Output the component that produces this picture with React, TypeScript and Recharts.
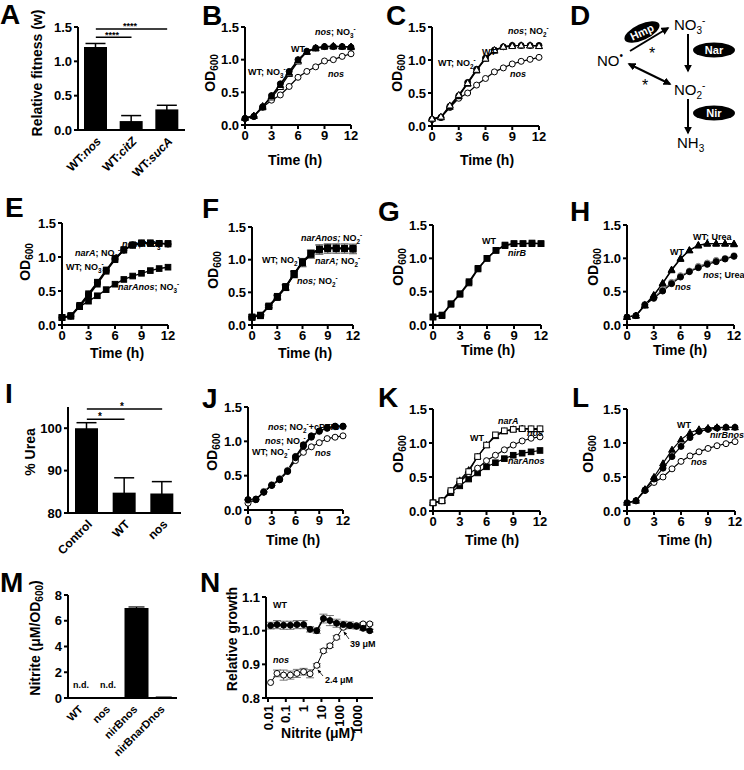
import React from 'react';
import { LineChart, Line, XAxis, YAxis, BarChart, Bar, ErrorBar, ReferenceLine } from 'recharts';

const FONT = "'Liberation Sans', Arial, Helvetica, sans-serif";

// ---------- shared axes ----------
const HOURS = [0, 1, 2, 3, 4, 5, 6, 7, 8, 9, 10, 11, 12];
const TIME_TICKS = [0, 3, 6, 9, 12];
const OD_TICKS = [0, 0.5, 1.0, 1.5];

// ---------- A ----------
const A_STRAINS = ['WT:nos', 'WT:citZ', 'WT:sucA'];
const A_FITNESS = [1.21, 0.13, 0.3];
const A_FITNESS_ERR = [0.05, 0.08, 0.06];
const A_TICKS = [0, 0.5, 1.0, 1.5];

// ---------- B ----------
const B_WT = [0.10, 0.13, 0.28, 0.45, 0.63, 0.82, 1.00, 1.13, 1.18, 1.20, 1.20, 1.20, 1.19];
const B_WT_NO3 = [0.11, 0.14, 0.27, 0.44, 0.61, 0.80, 0.99, 1.12, 1.18, 1.20, 1.21, 1.20, 1.20];
const B_NOS_NO3 = [0.11, 0.14, 0.29, 0.42, 0.58, 0.78, 0.97, 1.12, 1.17, 1.20, 1.20, 1.20, 1.19];
const B_NOS = [0.10, 0.13, 0.27, 0.38, 0.46, 0.59, 0.73, 0.82, 0.89, 0.98, 1.00, 1.05, 1.09];

// ---------- C ----------
const C_WT = [0.10, 0.13, 0.30, 0.46, 0.66, 0.86, 1.03, 1.15, 1.20, 1.22, 1.22, 1.22, 1.22];
const C_WT_NO2 = [0.11, 0.13, 0.29, 0.45, 0.64, 0.84, 1.02, 1.14, 1.20, 1.22, 1.22, 1.22, 1.21];
const C_NOS_NO2 = [0.11, 0.14, 0.31, 0.47, 0.65, 0.85, 1.02, 1.15, 1.20, 1.21, 1.22, 1.22, 1.21];
const C_NOS = [0.10, 0.13, 0.28, 0.42, 0.50, 0.62, 0.72, 0.82, 0.88, 0.94, 0.98, 1.01, 1.04];

// ---------- E ----------
const E_WT_NO3 = [0.11, 0.13, 0.28, 0.45, 0.62, 0.80, 0.97, 1.10, 1.18, 1.20, 1.20, 1.20, 1.19];
const E_NARA_NO3 = [0.11, 0.13, 0.27, 0.43, 0.60, 0.79, 0.96, 1.10, 1.17, 1.20, 1.20, 1.20, 1.20];
const E_NOS_NO3 = [0.11, 0.14, 0.29, 0.46, 0.63, 0.81, 0.98, 1.11, 1.18, 1.21, 1.21, 1.20, 1.19];
const E_NARANOS_NO3 = [0.11, 0.13, 0.27, 0.35, 0.43, 0.52, 0.60, 0.67, 0.72, 0.76, 0.80, 0.83, 0.85];

// ---------- F ----------
const F_WT_NO2 = [0.12, 0.15, 0.29, 0.43, 0.58, 0.78, 0.96, 1.09, 1.16, 1.17, 1.17, 1.17, 1.17];
const F_NARA_NO2 = [0.12, 0.15, 0.28, 0.42, 0.57, 0.77, 0.95, 1.08, 1.15, 1.17, 1.17, 1.17, 1.16];
const F_NOS_NO2 = [0.12, 0.14, 0.29, 0.44, 0.59, 0.79, 0.97, 1.10, 1.16, 1.18, 1.18, 1.17, 1.17];
const F_NARANOS_NO2 = [0.12, 0.15, 0.28, 0.43, 0.58, 0.78, 0.96, 1.09, 1.16, 1.18, 1.17, 1.17, 1.17];
const F_ERR = [0.01, 0.01, 0.02, 0.03, 0.04, 0.05, 0.06, 0.06, 0.07, 0.07, 0.07, 0.07, 0.07];

// ---------- G ----------
const G_WT = [0.12, 0.15, 0.32, 0.47, 0.65, 0.85, 1.00, 1.12, 1.20, 1.22, 1.22, 1.23, 1.22];
const G_NIRB = [0.12, 0.14, 0.31, 0.46, 0.63, 0.84, 1.00, 1.12, 1.19, 1.22, 1.22, 1.22, 1.22];

// ---------- H ----------
const H_WT = [0.12, 0.14, 0.30, 0.45, 0.63, 0.83, 1.00, 1.12, 1.20, 1.22, 1.22, 1.22, 1.22];
const H_WT_UREA = [0.12, 0.14, 0.29, 0.44, 0.62, 0.82, 0.99, 1.12, 1.19, 1.22, 1.22, 1.22, 1.21];
const H_NOS = [0.12, 0.14, 0.30, 0.40, 0.51, 0.62, 0.72, 0.80, 0.86, 0.91, 0.95, 0.99, 1.03];
const H_NOS_UREA = [0.12, 0.14, 0.31, 0.42, 0.53, 0.64, 0.74, 0.81, 0.88, 0.93, 0.97, 1.00, 1.04];

// ---------- I ----------
const I_GROUPS = ['Control', 'WT', 'nos'];
const I_UREA = [100, 84.8, 84.6];
const I_UREA_ERR = [1.3, 3.5, 2.8];
const I_TICKS = [80, 90, 100];

// ---------- J ----------
const J_NOS_NO2_CPTIO = [0.15, 0.15, 0.26, 0.36, 0.45, 0.57, 0.78, 0.95, 1.08, 1.15, 1.20, 1.22, 1.22];
const J_NOS_NO2 = [0.14, 0.15, 0.27, 0.37, 0.46, 0.58, 0.77, 0.94, 1.07, 1.14, 1.19, 1.21, 1.21];
const J_WT_NO2 = [0.15, 0.16, 0.26, 0.36, 0.44, 0.56, 0.76, 0.93, 1.06, 1.15, 1.19, 1.22, 1.22];
const J_NOS = [0.10, 0.15, 0.27, 0.36, 0.45, 0.57, 0.72, 0.84, 0.92, 0.98, 1.04, 1.06, 1.08];

// ---------- K ----------
const K_WT = [0.12, 0.15, 0.30, 0.45, 0.60, 0.80, 0.97, 1.10, 1.17, 1.20, 1.21, 1.20, 1.20];
const K_NARA = [0.12, 0.15, 0.30, 0.44, 0.58, 0.80, 0.97, 1.12, 1.18, 1.20, 1.21, 1.21, 1.21];
const K_NOS = [0.12, 0.15, 0.29, 0.42, 0.55, 0.63, 0.74, 0.82, 0.90, 0.97, 1.03, 1.07, 1.09];
const K_NARANOS = [0.12, 0.15, 0.27, 0.37, 0.47, 0.56, 0.65, 0.71, 0.77, 0.82, 0.85, 0.87, 0.89];

// ---------- L ----------
const L_WT = [0.12, 0.15, 0.32, 0.50, 0.70, 0.90, 1.05, 1.15, 1.20, 1.22, 1.23, 1.23, 1.23];
const L_NIRBNOS = [0.12, 0.15, 0.31, 0.47, 0.63, 0.80, 0.95, 1.08, 1.17, 1.20, 1.22, 1.23, 1.23];
const L_NOS = [0.12, 0.15, 0.30, 0.42, 0.50, 0.62, 0.73, 0.81, 0.87, 0.92, 0.96, 0.99, 1.02];

// ---------- M ----------
const M_STRAINS = ['WT', 'nos', 'nirBnos', 'nirBnarDnos'];
const M_NITRITE = [0, 0, 7.0, 0.05];
const M_NITRITE_ERR = [0, 0, 0.07, 0.02];
const M_TICKS = [0, 2, 4, 6, 8];

// ---------- N ----------
const N_NITRITE_UM = [0.014, 0.032, 0.075, 0.18, 0.42, 1.0, 2.3, 5.5, 13, 30, 71, 170, 400, 930, 2200, 5200];
const N_WT = [1.015, 1.018, 1.016, 1.016, 1.018, 1.018, 1.004, 1.0, 1.036, 1.03, 1.022, 1.018, 1.016, 1.013, 1.007, 1.0];
const N_WT_ERR = [0.01, 0.012, 0.012, 0.012, 0.012, 0.012, 0.008, 0.008, 0.013, 0.015, 0.012, 0.01, 0.01, 0.008, 0.006, 0.004];
const N_NOS = [0.846, 0.873, 0.868, 0.868, 0.873, 0.878, 0.872, 0.897, 0.94, 0.955, 0.98, 1.01, 1.015, 1.015, 1.02, 1.02];
const N_NOS_ERR = [0, 0.01, 0.015, 0.012, 0.012, 0.01, 0.012, 0.005, 0.005, 0.005, 0.005, 0.005, 0.005, 0.004, 0.004, 0.003];
const N_X_TICKS = [0.01, 0.1, 1, 10, 100, 1000];
const N_Y_TICKS = [0.8, 0.9, 1.0, 1.1];

// ---------- styles ----------
const AXIS = { stroke: '#000', strokeWidth: 2 };
const TICK = { fill: '#000', fontSize: 13, fontWeight: 700, fontFamily: FONT };

type Kind = 'fc' | 'oc' | 'ft' | 'ot' | 'fs' | 'os';
type Series = { key: string; values: number[]; kind: Kind; color?: string; err?: number[]; sw?: number };

function Marker({ cx, cy, kind, color }: any) {
  if (cx == null || cy == null || isNaN(cx) || isNaN(cy)) return <g />;
  const c = color || '#000';
  const fill = kind[0] === 'f' ? c : '#fff';
  const shape = kind[1];
  if (shape === 'c') return <circle cx={cx} cy={cy} r={3} fill={fill} stroke={c} strokeWidth={1} />;
  if (shape === 't')
    return <path d={`M${cx},${cy - 3.6}L${cx + 3.4},${cy + 2.4}L${cx - 3.4},${cy + 2.4}Z`} fill={fill} stroke={c} strokeWidth={1} />;
  return <rect x={cx - 2.8} y={cy - 2.8} width={5.6} height={5.6} fill={fill} stroke={c} strokeWidth={1} />;
}

function GrowthPanel({ px, py, pw, ph, series }: { px: number; py: number; pw: number; ph: number; series: Series[] }) {
  const rows = HOURS.map((t, i) => {
    const row: Record<string, number> = { t };
    series.forEach((s) => {
      row[s.key] = s.values[i];
      if (s.err) row[s.key + 'E'] = s.err[i];
    });
    return row;
  });
  const YW = 50, MT = 10, MR = 14, XH = 30;
  return (
    <div style={{ position: 'absolute', left: px - YW, top: py - MT }}>
      <LineChart width={pw + YW + MR} height={ph + MT + XH} data={rows} margin={{ top: MT, right: MR, bottom: 0, left: 0 }}>
        <XAxis dataKey="t" type="number" domain={[0, 12]} ticks={TIME_TICKS} interval={0} height={XH}
          axisLine={AXIS} tickLine={AXIS} tickSize={4} tick={TICK} />
        <YAxis type="number" domain={[0, 1.5]} ticks={OD_TICKS} interval={0} width={YW}
          axisLine={AXIS} tickLine={AXIS} tickSize={4} tick={TICK} tickFormatter={(v: number) => v.toFixed(1)} />
        {series.map((s) => (
          <Line key={s.key} dataKey={s.key} stroke={s.color || '#000'} strokeWidth={s.sw || 1.2} isAnimationActive={false}
            dot={(p: any) => <Marker key={`${s.key}-${p.index}`} cx={p.cx} cy={p.cy} kind={s.kind} color={s.color} />}>
            {s.err ? <ErrorBar dataKey={s.key + 'E'} width={4} stroke="#555" strokeWidth={0.8} direction="y" /> : null}
          </Line>
        ))}
      </LineChart>
    </div>
  );
}

function ATick({ x, y, payload }: any) {
  const [pre, post] = String(payload.value).split(':');
  const X = x + 6, Y = y + 4;
  return (
    <text x={X} y={Y} transform={`rotate(-45, ${X}, ${Y})`} textAnchor="end" fontFamily={FONT} fontWeight={700} fontSize={12} fill="#000">
      {pre}:<tspan fontStyle="italic">{post}</tspan>
    </text>
  );
}

function PlainRotTick({ x, y, payload, dx = 6, fs = 12 }: any) {
  const X = x + dx, Y = y + 4;
  return (
    <text x={X} y={Y} transform={`rotate(-45, ${X}, ${Y})`} textAnchor="end" fontFamily={FONT} fontWeight={700} fontSize={fs} fill="#000">
      {String(payload.value)}
    </text>
  );
}

function NTick({ x, y, payload }: any) {
  const X = x + 4.5, Y = y + 1;
  return (
    <text x={X} y={Y} transform={`rotate(-90, ${X}, ${Y})`} textAnchor="end" fontFamily={FONT} fontWeight={700} fontSize={13} fill="#000">
      {String(payload.value)}
    </text>
  );
}

function PanelA() {
  const rows = A_STRAINS.map((n, i) => ({ name: n, v: A_FITNESS[i], e: A_FITNESS_ERR[i] }));
  const px = 78, py = 27, pw = 107, ph = 103;
  return (
    <div style={{ position: 'absolute', left: px - 50, top: py - 10 }}>
      <BarChart width={pw + 56} height={ph + 70} data={rows} margin={{ top: 10, right: 6, left: 0, bottom: 0 }}>
        <XAxis dataKey="name" height={60} interval={0} axisLine={AXIS} tickLine={false} tick={<ATick />} />
        <YAxis type="number" domain={[0, 1.5]} ticks={A_TICKS} interval={0} width={50} axisLine={AXIS} tickLine={AXIS} tickSize={4}
          tick={TICK} tickFormatter={(v: number) => v.toFixed(1)} />
        <Bar dataKey="v" fill="#000" barSize={23} isAnimationActive={false}>
          <ErrorBar dataKey="e" width={10} stroke="#000" strokeWidth={1.5} direction="y" />
        </Bar>
        <ReferenceLine segment={[{ x: 'WT:nos', y: 1.35 }, { x: 'WT:citZ', y: 1.35 }]} stroke="#000" strokeWidth={1.5} ifOverflow="visible" />
        <ReferenceLine segment={[{ x: 'WT:nos', y: 1.47 }, { x: 'WT:sucA', y: 1.47 }]} stroke="#000" strokeWidth={1.5} ifOverflow="visible" />
      </BarChart>
    </div>
  );
}

function PanelI() {
  const rows = I_GROUPS.map((n, i) => ({ name: n, v: I_UREA[i], e: I_UREA_ERR[i] }));
  const px = 68, py = 407, pw = 113, ph = 106;
  return (
    <div style={{ position: 'absolute', left: px - 50, top: py - 10 }}>
      <BarChart width={pw + 56} height={ph + 70} data={rows} margin={{ top: 10, right: 6, left: 0, bottom: 0 }}>
        <XAxis dataKey="name" height={60} interval={0} axisLine={AXIS} tickLine={false} tick={<PlainRotTick dx={6} fs={12} />} />
        <YAxis type="number" domain={[80, 105]} ticks={I_TICKS} interval={0} width={50} axisLine={AXIS} tickLine={AXIS} tickSize={4} tick={TICK} />
        <Bar dataKey="v" fill="#000" barSize={23} isAnimationActive={false}>
          <ErrorBar dataKey="e" width={10} stroke="#000" strokeWidth={1.5} direction="y" />
        </Bar>
        <ReferenceLine segment={[{ x: 'Control', y: 102.1 }, { x: 'WT', y: 102.1 }]} stroke="#000" strokeWidth={1.5} ifOverflow="visible" />
        <ReferenceLine segment={[{ x: 'Control', y: 104.5 }, { x: 'nos', y: 104.5 }]} stroke="#000" strokeWidth={1.5} ifOverflow="visible" />
      </BarChart>
    </div>
  );
}

function PanelM() {
  const rows = M_STRAINS.map((n, i) => ({ name: n, v: M_NITRITE[i], e: M_NITRITE_ERR[i] }));
  const px = 68, py = 595, pw = 109, ph = 103;
  return (
    <div style={{ position: 'absolute', left: px - 50, top: py - 10 }}>
      <BarChart width={pw + 56} height={ph + 75} data={rows} margin={{ top: 10, right: 6, left: 0, bottom: 0 }}>
        <XAxis dataKey="name" height={65} interval={0} axisLine={AXIS} tickLine={false} tick={<PlainRotTick dx={2} fs={11} />} />
        <YAxis type="number" domain={[0, 8]} ticks={M_TICKS} interval={0} width={50} axisLine={AXIS} tickLine={AXIS} tickSize={4} tick={TICK} />
        <Bar dataKey="v" fill="#000" barSize={24} isAnimationActive={false}>
          <ErrorBar dataKey="e" width={8} stroke="#000" strokeWidth={1.2} direction="y" />
        </Bar>
      </BarChart>
    </div>
  );
}

function PanelN() {
  const rows = N_NITRITE_UM.map((c, i) => ({ c, wt: N_WT[i], wtE: N_WT_ERR[i], nos: N_NOS[i], nosE: N_NOS_ERR[i] }));
  const px = 266, py = 597, pw = 107, ph = 101;
  return (
    <div style={{ position: 'absolute', left: px - 50, top: py - 10 }}>
      <LineChart width={pw + 50 + 8} height={ph + 10 + 40} data={rows} margin={{ top: 10, right: 8, left: 0, bottom: 0 }}>
        <XAxis dataKey="c" type="number" scale="log" domain={[0.0077, 7900]} ticks={N_X_TICKS} interval={0} allowDataOverflow
          height={40} axisLine={AXIS} tickLine={AXIS} tickSize={4} tick={<NTick />} />
        <YAxis type="number" domain={[0.8, 1.1]} ticks={N_Y_TICKS} interval={0} width={50} axisLine={AXIS} tickLine={AXIS} tickSize={4}
          tick={TICK} tickFormatter={(v: number) => v.toFixed(1)} />
        <Line dataKey="nos" stroke="#000" strokeWidth={1} isAnimationActive={false}
          dot={(p: any) => <Marker key={`n-${p.index}`} cx={p.cx} cy={p.cy} kind="oc" />}>
          <ErrorBar dataKey="nosE" width={4} stroke="#555" strokeWidth={0.8} direction="y" />
        </Line>
        <Line dataKey="wt" stroke="#000" strokeWidth={1.6} isAnimationActive={false}
          dot={(p: any) => <Marker key={`w-${p.index}`} cx={p.cx} cy={p.cy} kind="fc" />}>
          <ErrorBar dataKey="wtE" width={4} stroke="#555" strokeWidth={0.8} direction="y" />
        </Line>
      </LineChart>
    </div>
  );
}

// ---------- text helpers ----------
function NOx(n: string, fs: number, after?: string) {
  return (
    <>
      <tspan>NO</tspan>
      <tspan fontSize={fs * 0.7} dy={fs * 0.3}>{n}</tspan>
      <tspan fontSize={fs * 0.7} dy={-fs * 0.75}>-</tspan>
      <tspan dy={fs * 0.45}>{after || ''}</tspan>
    </>
  );
}

const ANN = { fontFamily: FONT, fontWeight: 700, fontSize: 9, fill: '#000' } as any;
const LET = { fontFamily: FONT, fontWeight: 700, fontSize: 28, fill: '#000' } as any;
const TTL = { fontFamily: FONT, fontWeight: 700, fontSize: 14, fill: '#000' } as any;

function YTitle({ x, y, children }: any) {
  return (
    <text transform={`translate(${x},${y}) rotate(-90)`} textAnchor="middle" dy="0.35em" {...TTL}>
      {children}
    </text>
  );
}
function OD() {
  return (
    <>
      <tspan>OD</tspan>
      <tspan fontSize={10} dy={3}>600</tspan>
    </>
  );
}
function XTitle({ x, y, children }: any) {
  return <text x={x} y={y} textAnchor="middle" {...TTL}>{children}</text>;
}
const I = ({ children }: any) => <tspan fontStyle="italic">{children}</tspan>;

function Overlay() {
  const D = { fontFamily: FONT, fontSize: 15, fill: '#000' } as any;
  return (
    <svg width={744} height={770} style={{ position: 'absolute', left: 0, top: 0, pointerEvents: 'none' }}>
      <defs>
        <marker id="ah" viewBox="0 0 10 10" refX="8" refY="5" markerWidth="4" markerHeight="4" orient="auto-start-reverse">
          <path d="M0,0L10,5L0,10z" fill="#000" />
        </marker>
        <marker id="ahs" viewBox="0 0 10 10" refX="8" refY="5" markerWidth="5" markerHeight="5" orient="auto-start-reverse">
          <path d="M0,1L10,5L0,9z" fill="#000" />
        </marker>
      </defs>

      {/* panel letters */}
      <text x={0} y={24} {...LET}>A</text>
      <text x={202} y={25} {...LET}>B</text>
      <text x={386} y={25} {...LET}>C</text>
      <text x={570} y={25} {...LET}>D</text>
      <text x={5} y={217} {...LET}>E</text>
      <text x={202} y={218} {...LET}>F</text>
      <text x={378} y={221} {...LET}>G</text>
      <text x={570} y={221} {...LET}>H</text>
      <text x={5} y={403} {...LET}>I</text>
      <text x={202} y={408} {...LET}>J</text>
      <text x={378} y={407} {...LET}>K</text>
      <text x={572} y={407} {...LET}>L</text>
      <text x={0} y={592} {...LET}>M</text>
      <text x={200} y={592} {...LET}>N</text>

      {/* y titles */}
      <YTitle x={37} y={73}>Relative fitness (w)</YTitle>
      <YTitle x={210} y={73}><OD /></YTitle>
      <YTitle x={397} y={73}><OD /></YTitle>
      <YTitle x={25} y={262}><OD /></YTitle>
      <YTitle x={213} y={270}><OD /></YTitle>
      <YTitle x={398} y={267}><OD /></YTitle>
      <YTitle x={593} y={267}><OD /></YTitle>
      <YTitle x={30} y={452}>% Urea</YTitle>
      <YTitle x={212} y={452}><OD /></YTitle>
      <YTitle x={398} y={454}><OD /></YTitle>
      <YTitle x={588} y={454}><OD /></YTitle>
      <YTitle x={35} y={638}>Nitrite (μM/OD<tspan fontSize={10} dy={3}>600</tspan><tspan dy={-3}>)</tspan></YTitle>
      <YTitle x={232} y={639}>Relative growth</YTitle>

      {/* x titles */}
      <XTitle x={295} y={165}>Time (h)</XTitle>
      <XTitle x={487} y={165}>Time (h)</XTitle>
      <XTitle x={117} y={358}>Time (h)</XTitle>
      <XTitle x={305} y={358}>Time (h)</XTitle>
      <XTitle x={488} y={355}>Time (h)</XTitle>
      <XTitle x={680} y={355}>Time (h)</XTitle>
      <XTitle x={293} y={545}>Time (h)</XTitle>
      <XTitle x={492} y={545}>Time (h)</XTitle>
      <XTitle x={685} y={545}>Time (h)</XTitle>
      <XTitle x={318} y={738}>Nitrite (μM)</XTitle>

      {/* A significance */}
      <text x={112} y={38} textAnchor="middle" {...ANN}>****</text>
      <text x={130} y={29} textAnchor="middle" {...ANN}>****</text>
      {/* I significance */}
      <text x={100} y={420} textAnchor="middle" {...ANN} fontSize={10}>*</text>
      <text x={122} y={410} textAnchor="middle" {...ANN} fontSize={10}>*</text>

      {/* B */}
      <text x={315} y={35} {...ANN}><I>nos</I>; {NOx('3', 9)}</text>
      <text x={291} y={52} {...ANN}>WT</text>
      <text x={248} y={75} {...ANN}>WT; {NOx('3', 9)}</text>
      <text x={328} y={77} {...ANN}><I>nos</I></text>

      {/* C */}
      <text x={508} y={34} {...ANN}><I>nos</I>; {NOx('2', 9)}</text>
      <text x={482} y={55} {...ANN}>WT</text>
      <text x={438} y={66} {...ANN}>WT; {NOx('2', 9)}</text>
      <text x={510} y={77} {...ANN}><I>nos</I></text>

      {/* E */}
      <text x={122} y={247} {...ANN}><I>nos</I>; {NOx('3', 9)}</text>
      <text x={75} y={256} {...ANN}><I>narA</I>; {NOx('3', 9)}</text>
      <text x={66} y={270} {...ANN}>WT; {NOx('3', 9)}</text>
      <text x={118} y={290} {...ANN}><I>narAnos</I>; {NOx('3', 9)}</text>

      {/* F */}
      <text x={301} y={241} {...ANN}><I>narAnos; </I>{NOx('2', 9)}</text>
      <text x={262} y={263} {...ANN}>WT; {NOx('2', 9)}</text>
      <text x={315} y={264} {...ANN}><I>narA; </I>{NOx('2', 9)}</text>
      <text x={297} y={284} {...ANN}><I>nos; </I>{NOx('2', 9)}</text>

      {/* G */}
      <text x={482} y={244} {...ANN}>WT</text>
      <text x={508} y={256} {...ANN}><I>nirB</I></text>

      {/* H */}
      <text x={693} y={240} {...ANN}>WT; Urea</text>
      <text x={670} y={255} {...ANN}>WT</text>
      <text x={703} y={278} {...ANN}><I>nos</I>; Urea</text>
      <text x={675} y={290} {...ANN}><I>nos</I></text>

      {/* J */}
      <text x={268} y={430} {...ANN}><I>nos</I>; {NOx('2', 9, '+cPTIO')}</text>
      <text x={265} y={444} {...ANN}><I>nos</I>; {NOx('2', 9)}</text>
      <text x={252} y={455} {...ANN}>WT; {NOx('2', 9)}</text>
      <text x={315} y={456} {...ANN}><I>nos</I></text>

      {/* K */}
      <text x={498} y={424} {...ANN}><I>narA</I></text>
      <text x={470} y={441} {...ANN}>WT</text>
      <text x={527} y={436} {...ANN}><I>nos</I></text>
      <text x={508} y={464} {...ANN}><I>narAnos</I></text>

      {/* L */}
      <text x={677} y={428} {...ANN}>WT</text>
      <text x={710} y={438} {...ANN}><I>nirBnos</I></text>
      <text x={691} y={465} {...ANN}><I>nos</I></text>

      {/* M */}
      <text x={81} y={688} textAnchor="middle" {...ANN}>n.d.</text>
      <text x={108} y={688} textAnchor="middle" {...ANN}>n.d.</text>

      {/* N */}
      <text x={273} y={608} {...ANN}>WT</text>
      <text x={273} y={663} {...ANN}><I>nos</I></text>
      <text x={350} y={647} {...ANN}>39 μM</text>
      <text x={325} y={683} {...ANN}>2.4 μM</text>
      <line x1={349} y1={639} x2={344} y2={632} stroke="#000" strokeWidth={0.8} markerEnd="url(#ahs)" />
      <line x1={323} y1={676} x2={318} y2={670} stroke="#000" strokeWidth={0.8} markerEnd="url(#ahs)" />

      {/* D diagram */}
      <text x={674} y={30} {...D}>NO<tspan fontSize={10} dy={4}>3</tspan><tspan fontSize={10} dy={-10}>-</tspan></text>
      <text x={597} y={66} {...D}>NO<tspan fontSize={10} dy={-7}>•</tspan></text>
      <text x={674} y={95} {...D}>NO<tspan fontSize={10} dy={4}>2</tspan><tspan fontSize={10} dy={-10}>-</tspan></text>
      <text x={677} y={148} {...D}>NH<tspan fontSize={10} dy={4}>3</tspan></text>
      <line x1={688} y1={34} x2={688} y2={71} stroke="#000" strokeWidth={2} markerEnd="url(#ah)" />
      <line x1={688} y1={99} x2={688} y2={133} stroke="#000" strokeWidth={2} markerEnd="url(#ah)" />
      <line x1={630} y1={51} x2={668} y2={28} stroke="#000" strokeWidth={2} markerEnd="url(#ah)" />
      <line x1={629} y1={64} x2={670} y2={84} stroke="#000" strokeWidth={2} markerStart="url(#ah)" markerEnd="url(#ah)" />
      <ellipse cx={714} cy={50} rx={21} ry={7.5} fill="#000" />
      <text x={714} y={54} textAnchor="middle" fontFamily={FONT} fontWeight={700} fontSize={11} fill="#fff">Nar</text>
      <ellipse cx={714} cy={113} rx={21} ry={7.5} fill="#000" />
      <text x={714} y={117} textAnchor="middle" fontFamily={FONT} fontWeight={700} fontSize={11} fill="#fff">Nir</text>
      <g transform="rotate(-25, 642, 32)">
        <ellipse cx={642} cy={32} rx={19} ry={8} fill="#000" />
        <text x={642} y={36} textAnchor="middle" fontFamily={FONT} fontWeight={700} fontSize={11} fill="#fff">Hmp</text>
      </g>
      <text x={652} y={59} textAnchor="middle" fontFamily={FONT} fontSize={16} fill="#000">*</text>
      <text x={645} y={91} textAnchor="middle" fontFamily={FONT} fontSize={16} fill="#000">*</text>
    </svg>
  );
}

export default function App() {
  return (
    <div style={{ position: 'absolute', left: 0, top: 0, width: 744, height: 770, overflow: 'hidden', background: '#fff', fontFamily: FONT }}>
      <PanelA />
      <GrowthPanel px={245} py={27} pw={106} ph={98} series={[
        { key: 'nos', values: B_NOS, kind: 'oc' },
        { key: 'nosNO3', values: B_NOS_NO3, kind: 'ot' },
        { key: 'wtNO3', values: B_WT_NO3, kind: 'ft' },
        { key: 'wt', values: B_WT, kind: 'fc' },
      ]} />
      <GrowthPanel px={432} py={27} pw={107} ph={99} series={[
        { key: 'nos', values: C_NOS, kind: 'oc' },
        { key: 'wtNO2', values: C_WT_NO2, kind: 'ft' },
        { key: 'wt', values: C_WT, kind: 'fc' },
        { key: 'nosNO2', values: C_NOS_NO2, kind: 'ot' },
      ]} />
      <GrowthPanel px={62} py={223} pw={106} ph={102} series={[
        { key: 'narAnos', values: E_NARANOS_NO3, kind: 'fs', sw: 1.4 },
        { key: 'wt', values: E_WT_NO3, kind: 'fc', sw: 1.4 },
        { key: 'narA', values: E_NARA_NO3, kind: 'fs', sw: 1.4 },
        { key: 'nos', values: E_NOS_NO3, kind: 'fs', sw: 1.4 },
      ]} />
      <GrowthPanel px={252} py={227} pw={101} ph={98} series={[
        { key: 'wt', values: F_WT_NO2, kind: 'fs', sw: 1.4, err: F_ERR },
        { key: 'narA', values: F_NARA_NO2, kind: 'fs', sw: 1.4, err: F_ERR },
        { key: 'nos', values: F_NOS_NO2, kind: 'fs', sw: 1.4 },
        { key: 'narAnos', values: F_NARANOS_NO2, kind: 'fs', sw: 1.4 },
      ]} />
      <GrowthPanel px={433} py={225} pw={108} ph={100} series={[
        { key: 'wt', values: G_WT, kind: 'fs', sw: 1.4 },
        { key: 'nirB', values: G_NIRB, kind: 'fs', sw: 1.4 },
      ]} />
      <GrowthPanel px={627} py={225} pw={107} ph={100} series={[
        { key: 'nosUrea', values: H_NOS_UREA, kind: 'fc', color: '#888' },
        { key: 'nos', values: H_NOS, kind: 'fc' },
        { key: 'wtUrea', values: H_WT_UREA, kind: 'ft' },
        { key: 'wt', values: H_WT, kind: 'ft' },
      ]} />
      <PanelI />
      <GrowthPanel px={248} py={407} pw={95} ph={103} series={[
        { key: 'nos', values: J_NOS, kind: 'oc' },
        { key: 'nosNO2', values: J_NOS_NO2, kind: 'fc', color: '#999' },
        { key: 'wtNO2', values: J_WT_NO2, kind: 'fc' },
        { key: 'cptio', values: J_NOS_NO2_CPTIO, kind: 'fc' },
      ]} />
      <GrowthPanel px={433} py={409} pw={107} ph={102} series={[
        { key: 'narAnos', values: K_NARANOS, kind: 'fs' },
        { key: 'nos', values: K_NOS, kind: 'oc' },
        { key: 'wt', values: K_WT, kind: 'ft' },
        { key: 'narA', values: K_NARA, kind: 'os' },
      ]} />
      <GrowthPanel px={627} py={409} pw={108} ph={102} series={[
        { key: 'nos', values: L_NOS, kind: 'oc' },
        { key: 'nirBnos', values: L_NIRBNOS, kind: 'fc' },
        { key: 'wt', values: L_WT, kind: 'ft' },
      ]} />
      <PanelM />
      <PanelN />
      <Overlay />
    </div>
  );
}
